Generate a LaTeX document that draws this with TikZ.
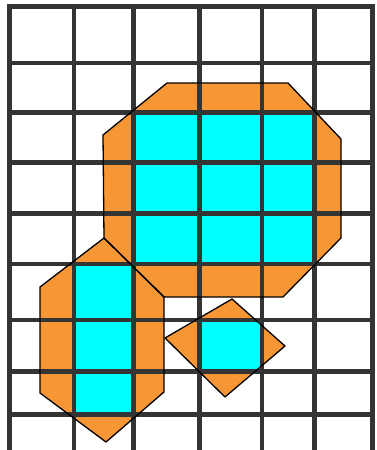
\documentclass[tikz,border=0pt]{standalone}
\definecolor{tileorange}{RGB}{247,150,52}
\definecolor{tilecyan}{RGB}{0,255,255}
\definecolor{gridgray}{RGB}{52,52,52}
\tikzset{
  orangearea/.style={fill=tileorange},
  cyanarea/.style={fill=tilecyan},
  gridline/.style={draw=gridgray,line width=4.6pt,line cap=butt},
  outline/.style={draw=black,line width=1.3pt,line join=round,line cap=round}
}
\begin{document}
\begin{tikzpicture}[x=1pt,y=-1pt]
\useasboundingbox (0,0) rectangle (376,450);
\fill[white] (0,0) rectangle (376,450);
% orange shapes
\fill[orangearea] (167,83) -- (288,83) -- (341,139) -- (341,238) -- (283,297) -- (164,297) -- (104,238) -- (103,135) -- cycle;
\fill[orangearea] (104,238) -- (164,297) -- (164,392) -- (106,442) -- (40,393) -- (40,287) -- cycle;
\fill[orangearea] (232,299) -- (285,346) -- (225,397) -- (165,338) -- cycle;
% cyan cells
\fill[cyanarea] (133.5,112.5) rectangle (314.5,264);
\fill[cyanarea] (74,264) rectangle (133.5,414.5);
\fill[cyanarea] (199.5,320) rectangle (262,371.5);
% grid
\foreach \x in {9.5,74,133.5,199.5,262,314.5,372.5}
  \draw[gridline] (\x,4.2) -- (\x,452);
\foreach \y in {6.5,63,112.5,162.5,213.5,264,320,371.5,414.5}
  \draw[gridline] (7.2,\y) -- (374.8,\y);
% outlines
\draw[outline] (167,83) -- (288,83) -- (341,139) -- (341,238) -- (283,297) -- (164,297) -- (104,238) -- (103,135) -- cycle;
\draw[outline] (104,238) -- (164,297) -- (164,392) -- (106,442) -- (40,393) -- (40,287) -- cycle;
\draw[outline] (232,299) -- (285,346) -- (225,397) -- (165,338) -- cycle;
\end{tikzpicture}
\end{document}
